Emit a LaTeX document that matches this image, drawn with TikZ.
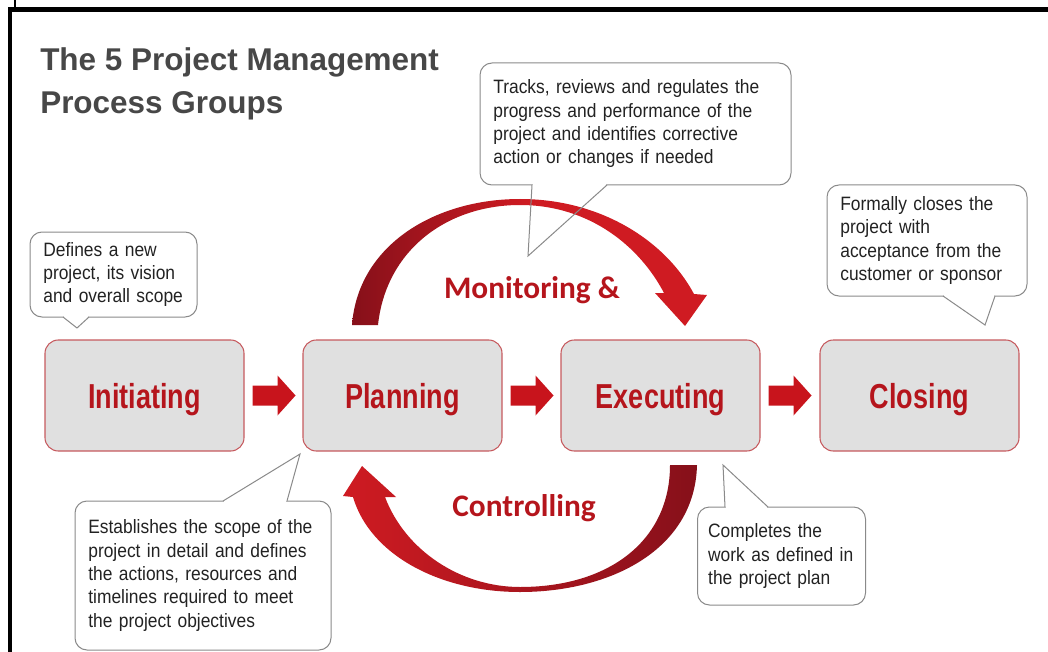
\documentclass[tikz,border=0pt]{standalone}
\usepackage{fontspec}
\setmainfont{Liberation Sans}
\newfontfamily\calibfont{Carlito}
\newfontfamily\narrowfont[FakeStretch=0.78]{Liberation Sans}
\newfontfamily\notefont[FakeStretch=0.9]{Liberation Sans}
\usetikzlibrary{calc}
\definecolor{stagered}{HTML}{B5151C}
\definecolor{stageborder}{HTML}{C65A5E}
\definecolor{stagefill}{HTML}{E0E0E0}
\definecolor{arrowred}{HTML}{C8141C}
\definecolor{arcdark}{HTML}{86101A}
\definecolor{arcred}{HTML}{CF1B22}
\definecolor{titlegray}{HTML}{474747}
\definecolor{calloutgray}{HTML}{8A8A8A}
\definecolor{callouttext}{HTML}{222222}
\begin{document}
\begin{tikzpicture}[x=0.75pt,y=-0.75pt,
  stage/.style={draw=stageborder, line width=0.8pt, fill=stagefill, rounded corners=10pt,
    minimum width=149.25pt, minimum height=83.25pt, inner sep=0pt, text depth=0pt,
    font=\narrowfont\bfseries\fontsize{26}{30}\selectfont, text=stagered},
  callout/.style={draw=calloutgray, line width=0.75pt, fill=white, rounded corners=9pt,
    align=left, inner xsep=10pt, inner ysep=0pt, text=callouttext,
    font=\notefont\fontsize{14.5}{17.5}\selectfont},
  ptrline/.style={draw=calloutgray, line width=0.75pt, line join=miter},
  flowarrow/.style={fill=arrowred},
  arclabel/.style={font=\calibfont\bfseries\fontsize{23.5}{28}\selectfont, text=stagered, inner sep=0pt},
  titletext/.style={font=\bfseries\fontsize{23.6}{32.3}\selectfont, text=titlegray, align=left, inner sep=0pt}]
\useasboundingbox (0,0) rectangle (1048,652);

% frame lines along the top and left edges
\draw[line width=3.75pt] (8,9.5) -- (1048,9.5);
\draw[line width=3pt] (9.5,9.5) -- (9.5,652);
\draw[line width=1.2pt] (15,0) -- (15,8);

% title
\node[titletext, anchor=north west] (title) at (40,47) {The 5 Project Management\\Process Groups};

% the four process groups
\node[stage] (init)  at (144.5,395.5) {Initiating};
\node[stage] (plan)  at (402.5,395.5) {Planning};
\node[stage] (exec)  at (660.5,395.5) {Executing};
\node[stage] (close) at (919.5,395.5) {Closing};

% block arrows between the groups
\foreach \a/\b in {init/plan, plan/exec, exec/close}{
  \fill[flowarrow] ($(\a.east)+(8,-10)$) -- ++(25,0) -- ++(0,-10) -- ++(18,20)
    -- ++(-18,20) -- ++(0,-10) -- ++(-25,0) -- cycle;
}

% callout boxes
\node[callout, text width=105.25pt, minimum height=63.75pt] (cInit) at (113.5,274.5)
  {Defines a new\\project, its vision\\and overall scope};
\node[callout, text width=172pt, minimum height=111.75pt] (cPlan) at (203,575.5)
  {Establishes the scope of the\\project in detail and defines\\the actions, resources and\\timelines required to meet\\the project objectives};
\node[callout, text width=213.25pt, minimum height=91.5pt] (cMon) at (635.5,124)
  {Tracks, reviews and regulates the\\progress and performance of the\\project and identifies corrective\\action or changes if needed};
\node[callout, text width=110pt, inner xsep=8pt, minimum height=73.5pt] (cExec) at (781.5,556)
  {Completes the\\work as defined in\\the project plan};
\node[callout, text width=130pt, minimum height=83.25pt] (cClose) at (927,240.5)
  {Formally closes the\\project with\\acceptance from the\\customer or sponsor};

% callout pointers: base corners and tips
\coordinate (pA1) at (63,317);  \coordinate (pA2) at (89,317);  \coordinate (pAt) at (77,328);
\coordinate (pB1) at (223,501); \coordinate (pB2) at (287,501); \coordinate (pBt) at (300,454);
\coordinate (pC1) at (532,185); \coordinate (pC2) at (607,185); \coordinate (pCt) at (528,256);
\coordinate (pD1) at (725,507); \coordinate (pD2) at (768,507); \coordinate (pDt) at (723,465);
\coordinate (pE1) at (943,296); \coordinate (pE2) at (995,296); \coordinate (pEt) at (985,325);
\foreach \p in {A,B,C,D,E}{
  \fill[white] (p\p1) -- (p\p t) -- (p\p2) -- cycle;
  \draw[white, line width=1.4pt, shorten <=0.6pt, shorten >=0.6pt] (p\p1) -- (p\p2);
}

% monitoring arc over planning -> executing
\shade[left color=arcdark, right color=arcred, middle color=arcred]
  (352,325) .. controls (358,245) and (435,199) .. (520,199)
  .. controls (600,199) and (665,240) .. (694,294)
  -- (707,295) -- (685,326) -- (655,293) -- (664,293)
  .. controls (640,247) and (590,205) .. (520,205)
  .. controls (447,205) and (386,250) .. (378,325) -- cycle;

% controlling arc under executing -> planning
\shade[left color=arcred, middle color=arcred, right color=arcdark]
  (697,465) .. controls (695,550) and (610,592) .. (520,592)
  .. controls (440,592) and (370,555) .. (353,497)
  -- (343,496) -- (362,466) -- (396,497) -- (385,497)
  .. controls (405,550) and (460,587) .. (520,587)
  .. controls (610,587) and (670,540) .. (670,465) -- cycle;

% pointer outlines
\foreach \p in {A,B,C,D,E}{
  \draw[ptrline] (p\p1) -- (p\p t) -- (p\p2);
}

% arc labels
\node[arclabel] (lMon)  at (532,290) {Monitoring \&};
\node[arclabel] (lCtrl) at (524,508) {Controlling};
\end{tikzpicture}
\end{document}
